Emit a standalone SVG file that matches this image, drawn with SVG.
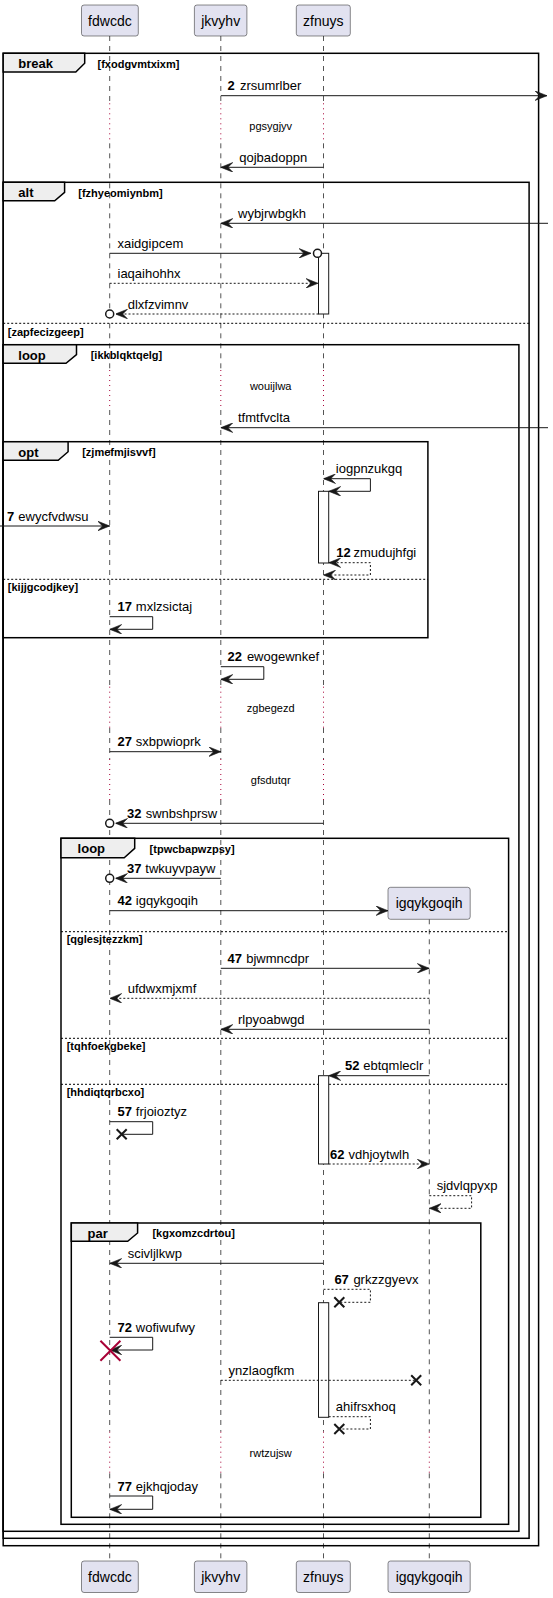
<svg xmlns="http://www.w3.org/2000/svg" width="553" height="1598" viewBox="0 0 553 1598">
<style>
text{font-family:"Liberation Sans",Arial,sans-serif;fill:#000}
.pt{font-size:14px;text-anchor:middle}
.pbox{fill:#E2E2F0;stroke:#181818;stroke-width:0.5}
.ll{stroke:#555;stroke-width:1;stroke-dasharray:5,5;fill:none}
.dl{stroke:#A80036;stroke-width:1;stroke-dasharray:1,4;fill:none}
.frame{fill:none;stroke:#000;stroke-width:1.5}
.tab{fill:#EEEEEE;stroke:#000;stroke-width:1.5}
.sep{stroke:#000;stroke-width:1;stroke-dasharray:2,2}
.gl{font-size:13px;font-weight:bold}
.gc{font-size:11px;font-weight:bold}
.msg{stroke:#181818;stroke-width:1;fill:none}
.dash{stroke-dasharray:2,2}
.ah{marker-end:url(#ah)}
.ah2{marker-start:url(#ah);marker-end:url(#ah)}
.mt{font-size:13px}
.sn{font-size:13px;font-weight:bold}
.dt{font-size:11px;text-anchor:middle}
.act{fill:#fff;stroke:#181818;stroke-width:1}
.ox{stroke:#181818;stroke-width:2;fill:none}
.oc{fill:#fff;stroke:#181818;stroke-width:1.5}
.rx{stroke:#A80036;stroke-width:2;fill:none}
</style>
<defs>
<marker id="ah" markerUnits="userSpaceOnUse" markerWidth="12" markerHeight="10" viewBox="0 0 10 8" refX="10" refY="4" orient="auto-start-reverse">
<path d="M0,0 L10,4 L0,8 L4,4 Z" fill="#181818" stroke="#181818" stroke-width="0.5"/>
</marker>
</defs>

<g id="lifelines">
<path class="ll" d="M109.7,36V103.3M109.7,143.3V370M109.7,410V686.7M109.7,728V759M109.7,800V1431.7M109.7,1473.3V1561"/>
<path class="dl" d="M109.7,103.3V143.3M109.7,370V410M109.7,686.7V728M109.7,759V800M109.7,1431.7V1473.3"/>
<path class="ll" d="M220.8,36V103.3M220.8,143.3V370M220.8,410V686.7M220.8,728V759M220.8,800V1431.7M220.8,1473.3V1561"/>
<path class="dl" d="M220.8,103.3V143.3M220.8,370V410M220.8,686.7V728M220.8,759V800M220.8,1431.7V1473.3"/>
<path class="ll" d="M323.5,36V103.3M323.5,143.3V370M323.5,410V686.7M323.5,728V759M323.5,800V1431.7M323.5,1473.3V1561"/>
<path class="dl" d="M323.5,103.3V143.3M323.5,370V410M323.5,686.7V728M323.5,759V800M323.5,1431.7V1473.3"/>
<path class="ll" d="M429.3,919.3V1431.7M429.3,1473.3V1561"/>
<path class="dl" d="M429.3,1431.7V1473.3"/>
</g>

<g id="frames">
<g id="grp-break">
<rect class="frame" x="3.2" y="53.3" width="535.4" height="1492.4"/>
<path class="tab" d="M3.2,53.3H84.7V63.3L75.8,72H3.2Z"/>
<text class="gl" x="18.3" y="68">break</text>
<text class="gc" x="97.5" y="67.5">[fxodgvmtxixm]</text>
</g>
<g id="grp-alt">
<rect class="frame" x="3.2" y="182.3" width="525.9" height="1356"/>
<path class="tab" d="M3.2,182.3H64.6V192.3L54.7,200.8H3.2Z"/>
<text class="gl" x="18.3" y="197">alt</text>
<text class="gc" x="78.3" y="196.5">[fzhyeomiynbm]</text>
<line class="sep" x1="3.2" y1="323.3" x2="529.1" y2="323.3"/>
<text class="gc" x="7.8" y="335.5">[zapfecizgeep]</text>
</g>
<g id="grp-loop1">
<rect class="frame" x="3.2" y="344.7" width="515.7" height="1186.6"/>
<path class="tab" d="M3.2,344.7H76.5V354.7L66,363.3H3.2Z"/>
<text class="gl" x="18.3" y="359.5">loop</text>
<text class="gc" x="90.7" y="359">[ikkblqktqelg]</text>
</g>
<g id="grp-opt">
<rect class="frame" x="3.2" y="441.7" width="424.7" height="196"/>
<path class="tab" d="M3.2,441.7H68.1V451.7L58.2,460.3H3.2Z"/>
<text class="gl" x="18.3" y="456.5">opt</text>
<text class="gc" x="82.2" y="456">[zjmefmjisvvf]</text>
<line class="sep" x1="3.2" y1="579.3" x2="427.9" y2="579.3"/>
<text class="gc" x="7.8" y="590.5">[kijjgcodjkey]</text>
</g>
<g id="grp-loop2">
<rect class="frame" x="61" y="838.3" width="447.6" height="686"/>
<path class="tab" d="M61,838.3H134.7V848.3L124.2,857.7H61Z"/>
<text class="gl" x="77.6" y="853">loop</text>
<text class="gc" x="149.6" y="852.5">[tpwcbapwzpsy]</text>
<line class="sep" x1="61" y1="931.7" x2="508.6" y2="931.7"/>
<text class="gc" x="66.7" y="943">[qglesjtezzkm]</text>
<line class="sep" x1="61" y1="1038.3" x2="508.6" y2="1038.3"/>
<text class="gc" x="66.7" y="1050">[tqhfoekgbeke]</text>
<line class="sep" x1="61" y1="1084.3" x2="508.6" y2="1084.3"/>
<text class="gc" x="66.7" y="1096">[hhdiqtqrbcxo]</text>
</g>
<g id="grp-par">
<rect class="frame" x="71.3" y="1223" width="409.5" height="294.3"/>
<path class="tab" d="M71.3,1223H137.6V1233L127.7,1241.3H71.3Z"/>
<text class="gl" x="87.5" y="1237.7">par</text>
<text class="gc" x="152.4" y="1237.2">[kgxomzcdrtou]</text>
</g>
</g>

<g id="participants">
<g id="p-fdwcdc">
<rect class="pbox" x="81.5" y="5" width="56.8" height="31" rx="2.5"/>
<text class="pt" x="109.9" y="25.5">fdwcdc</text>
<rect class="pbox" x="81.5" y="1561" width="56.8" height="31.5" rx="2.5"/>
<text class="pt" x="109.9" y="1581.5">fdwcdc</text>
</g>
<g id="p-jkvyhv">
<rect class="pbox" x="194.4" y="5" width="52.5" height="31" rx="2.5"/>
<text class="pt" x="220.7" y="25.5">jkvyhv</text>
<rect class="pbox" x="194.4" y="1561" width="52.5" height="31.5" rx="2.5"/>
<text class="pt" x="220.7" y="1581.5">jkvyhv</text>
</g>
<g id="p-zfnuys">
<rect class="pbox" x="296.3" y="5" width="54" height="31" rx="2.5"/>
<text class="pt" x="323.3" y="25.5">zfnuys</text>
<rect class="pbox" x="296.3" y="1561" width="54" height="31.5" rx="2.5"/>
<text class="pt" x="323.3" y="1581.5">zfnuys</text>
</g>
<g id="p-igqykgoqih">
<rect class="pbox" x="388" y="887.3" width="82.2" height="32" rx="2.5"/>
<text class="pt" x="429.1" y="908">igqykgoqih</text>
<rect class="pbox" x="388" y="1561" width="82.2" height="31.5" rx="2.5"/>
<text class="pt" x="429.1" y="1581.5">igqykgoqih</text>
</g>
</g>

<g id="activations">
<rect class="act" x="318.5" y="253.3" width="10.2" height="60.7"/>
<rect class="act" x="318.5" y="491.3" width="10.2" height="71.7"/>
<rect class="act" x="318.5" y="1075.7" width="10.2" height="88.3"/>
<rect class="act" x="318.5" y="1302.7" width="10.2" height="114.6"/>
</g>

<g id="delays">
<text class="dt" x="270.7" y="130">pgsygjyv</text>
<text class="dt" x="270.7" y="390">wouijlwa</text>
<text class="dt" x="270.7" y="711.7">zgbegezd</text>
<text class="dt" x="270.7" y="784">gfsdutqr</text>
<text class="dt" x="270.7" y="1457.3">rwtzujsw</text>
</g>

<g id="connectors">
<line class="msg ah" x1="220.8" y1="95.7" x2="547" y2="95.7"/>
<text class="sn" x="227.5" y="90.2">2</text><text class="mt" x="239.9" y="90.2">zrsumrlber</text>

<line class="msg ah" x1="323.5" y1="167.3" x2="220.8" y2="167.3"/>
<text class="mt" x="239.2" y="161.8">qojbadoppn</text>

<line class="msg ah" x1="548" y1="223.3" x2="220.8" y2="223.3"/>
<text class="mt" x="238" y="217.8">wybjrwbgkh</text>

<line class="msg ah" x1="109.7" y1="253.3" x2="311" y2="253.3"/>
<circle class="oc" cx="317.5" cy="253.3" r="4"/>
<text class="mt" x="117.5" y="247.8">xaidgipcem</text>

<line class="msg dash ah" x1="109.7" y1="283.3" x2="318" y2="283.3"/>
<text class="mt" x="117.5" y="277.8">iaqaihohhx</text>

<line class="msg dash ah" x1="318.5" y1="314" x2="115.5" y2="314"/>
<circle class="oc" cx="109.7" cy="314" r="4"/>
<text class="mt" x="127.7" y="308.5">dlxfzvimnv</text>

<line class="msg ah" x1="548" y1="427.7" x2="220.8" y2="427.7"/>
<text class="mt" x="238" y="422.2">tfmtfvclta</text>

<polyline class="msg ah2" points="323.5,478.7 370.4,478.7 370.4,491.3 328.7,491.3"/>
<text class="mt" x="335.8" y="473.2">iogpnzukgq</text>

<line class="msg ah" x1="0" y1="526" x2="109.7" y2="526"/>
<text class="sn" x="7" y="520.5">7</text><text class="mt" x="18.3" y="520.5">ewycfvdwsu</text>

<polyline class="msg dash ah2" points="328.7,562.7 370.4,562.7 370.4,575 323.5,575"/>
<text class="sn" x="336.2" y="557">12</text><text class="mt" x="353.4" y="557">zmudujhfgi</text>

<polyline class="msg ah" points="109.7,616.7 152.7,616.7 152.7,629.3 109.7,629.3"/>
<text class="sn" x="117.5" y="610.8">17</text><text class="mt" x="135.8" y="610.8">mxlzsictaj</text>

<polyline class="msg ah" points="220.8,666.7 263.8,666.7 263.8,679.3 220.8,679.3"/>
<text class="sn" x="227.5" y="660.8">22</text><text class="mt" x="246.9" y="660.8">ewogewnkef</text>

<line class="msg ah" x1="109.7" y1="751.7" x2="220.8" y2="751.7"/>
<text class="sn" x="117.5" y="746">27</text><text class="mt" x="135.8" y="746">sxbpwioprk</text>

<line class="msg ah" x1="323.5" y1="823.3" x2="115.5" y2="823.3"/>
<circle class="oc" cx="109.7" cy="823.3" r="4"/>
<text class="sn" x="127" y="818">32</text><text class="mt" x="145.7" y="818">swnbshprsw</text>

<line class="msg ah" x1="220.8" y1="878.3" x2="115.5" y2="878.3"/>
<circle class="oc" cx="109.7" cy="878.3" r="4"/>
<text class="sn" x="127" y="873">37</text><text class="mt" x="145.3" y="873">twkuyvpayw</text>

<line class="msg ah" x1="109.7" y1="910.7" x2="388" y2="910.7"/>
<text class="sn" x="117.5" y="905">42</text><text class="mt" x="135.8" y="905">igqykgoqih</text>

<line class="msg ah" x1="220.8" y1="968.3" x2="429.3" y2="968.3"/>
<text class="sn" x="227.5" y="963">47</text><text class="mt" x="246.2" y="963">bjwmncdpr</text>

<line class="msg dash ah" x1="429.3" y1="998.3" x2="109.7" y2="998.3"/>
<text class="mt" x="127.7" y="992.8">ufdwxmjxmf</text>

<line class="msg ah" x1="429.3" y1="1029.3" x2="220.8" y2="1029.3"/>
<text class="mt" x="238" y="1023.8">rlpyoabwgd</text>

<line class="msg ah" x1="429.3" y1="1075.7" x2="328.7" y2="1075.7"/>
<text class="sn" x="345" y="1070.2">52</text><text class="mt" x="363.3" y="1070.2">ebtqmleclr</text>

<polyline class="msg" points="109.7,1121.7 152.7,1121.7 152.7,1134.3 121.7,1134.3"/>
<path class="ox" d="M116.7,1129.3L126.7,1139.3M116.7,1139.3L126.7,1129.3"/>
<text class="sn" x="117.5" y="1116.3">57</text><text class="mt" x="135.8" y="1116.3">frjoioztyz</text>

<line class="msg dash ah" x1="328.7" y1="1164" x2="429.3" y2="1164"/>
<text class="sn" x="330" y="1158.5">62</text><text class="mt" x="348.5" y="1158.5">vdhjoytwlh</text>

<polyline class="msg dash ah" points="429.3,1195.7 471.6,1195.7 471.6,1208.3 429.3,1208.3"/>
<text class="mt" x="436.7" y="1190">sjdvlqpyxp</text>

<line class="msg ah" x1="323.5" y1="1263.3" x2="109.7" y2="1263.3"/>
<text class="mt" x="127.7" y="1257.8">scivljlkwp</text>

<polyline class="msg dash" points="323.5,1289.3 370.4,1289.3 370.4,1302.3 339.3,1302.3"/>
<path class="ox" d="M334.3,1297.3L344.3,1307.3M334.3,1307.3L344.3,1297.3"/>
<text class="sn" x="334.4" y="1283.8">67</text><text class="mt" x="353.4" y="1283.8">grkzzgyevx</text>

<polyline class="msg ah" points="109.7,1337.3 152.7,1337.3 152.7,1350 109.7,1350"/>
<path class="rx" d="M100.4,1340.7L120.4,1360.7M100.4,1360.7L120.4,1340.7"/>
<text class="sn" x="117.5" y="1331.8">72</text><text class="mt" x="135.8" y="1331.8">wofiwufwy</text>

<line class="msg dash" x1="220.8" y1="1380.3" x2="416.2" y2="1380.3"/>
<path class="ox" d="M411.2,1375.3L421.2,1385.3M411.2,1385.3L421.2,1375.3"/>
<text class="mt" x="228.6" y="1374.8">ynzlaogfkm</text>

<polyline class="msg dash" points="328.7,1416.7 370.4,1416.7 370.4,1429 339.3,1429"/>
<path class="ox" d="M334.3,1424L344.3,1434M334.3,1434L344.3,1424"/>
<text class="mt" x="335.8" y="1411.2">ahifrsxhoq</text>

<polyline class="msg ah" points="109.7,1496 152.7,1496 152.7,1509.3 109.7,1509.3"/>
<text class="sn" x="117.5" y="1490.5">77</text><text class="mt" x="135.8" y="1490.5">ejkhqjoday</text>
</g>
</svg>
